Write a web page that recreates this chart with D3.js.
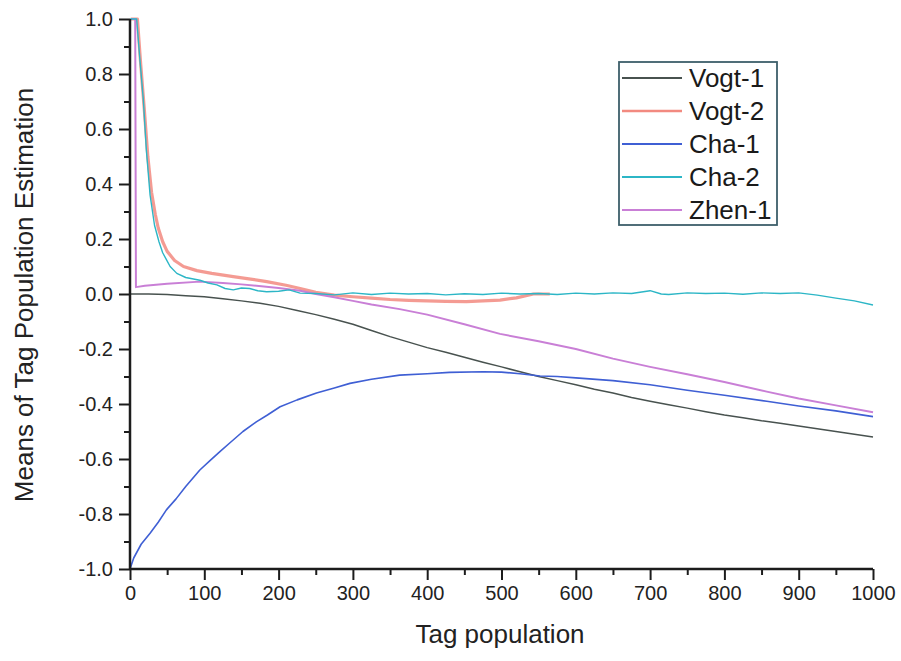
<!DOCTYPE html>
<html>
<head>
<meta charset="utf-8">
<script src="https://cdn.jsdelivr.net/npm/d3@7"></script>
<style>
  body { margin: 0; background: #fff; }
  svg { font-family: "Liberation Sans", Arial, sans-serif; }
</style>
</head>
<body>
<div id="chart"></div>
<script>
'use strict';

// series data, [tag population, mean estimation]
const vogt1 = [[0,0],[25,0],[50,-0.002],[75,-0.006],[100,-0.01],[125,-0.017],[150,-0.025],[175,-0.034],
  [200,-0.045],[225,-0.06],[250,-0.075],[275,-0.092],[300,-0.11],[325,-0.133],[350,-0.155],[375,-0.175],
  [400,-0.195],[425,-0.212],[450,-0.23],[475,-0.248],[500,-0.265],[525,-0.283],[550,-0.3],[575,-0.315],
  [600,-0.33],[625,-0.346],[650,-0.36],[675,-0.376],[700,-0.39],[725,-0.403],[750,-0.415],[775,-0.428],
  [800,-0.44],[825,-0.45],[850,-0.461],[875,-0.47],[900,-0.48],[925,-0.49],[950,-0.5],[975,-0.51],[1000,-0.52]];

const vogt2 = [[1,1.0],[10,1.0],[14,0.85],[19,0.68],[24,0.5],[29,0.37],[34,0.29],[38,0.24],[44,0.19],
  [50,0.155],[60,0.122],[72,0.1],[90,0.085],[110,0.075],[139,0.063],[160,0.055],[184,0.045],[210,0.032],
  [229,0.02],[250,0.006],[275,-0.004],[300,-0.01],[325,-0.015],[350,-0.02],[375,-0.023],[400,-0.025],
  [425,-0.027],[453,-0.028],[475,-0.025],[498,-0.022],[520,-0.014],[543,0.0],[555,0.0],[565,0.0]];

const cha1 = [[0,-1.0],[5,-0.96],[15,-0.91],[27,-0.87],[38,-0.83],[49,-0.785],[62,-0.745],[75,-0.7],
  [94,-0.64],[108,-0.605],[121,-0.573],[135,-0.54],[152,-0.5],[170,-0.465],[185,-0.44],[202,-0.41],
  [225,-0.385],[251,-0.36],[275,-0.342],[296,-0.325],[325,-0.31],[363,-0.295],[400,-0.29],[430,-0.285],
  [475,-0.283],[500,-0.284],[525,-0.29],[552,-0.298],[575,-0.3],[600,-0.305],[650,-0.315],[700,-0.33],
  [750,-0.35],[800,-0.368],[857,-0.39],[900,-0.407],[950,-0.425],[1000,-0.446]];

const cha2 = [[0,1.0],[9,1.0],[13,0.863],[18,0.705],[22,0.524],[27,0.36],[33,0.25],[39,0.19],[44,0.15],
  [49,0.125],[54,0.1],[63,0.075],[75,0.06],[94,0.05],[105,0.04],[117,0.033],[128,0.02],[139,0.015],
  [150,0.022],[161,0.02],[172,0.012],[184,0.008],[200,0.01],[214,0.015],[229,0.003],[250,0.002],
  [275,-0.003],[300,0.004],[325,-0.002],[350,0.003],[375,0.0],[400,0.002],[425,-0.003],[450,0.001],
  [475,-0.002],[500,0.003],[525,0.0],[550,0.002],[575,-0.002],[600,0.003],[625,0.0],[650,0.004],
  [675,0.002],[700,0.012],[715,0.0],[725,-0.002],[750,0.004],[775,0.002],[800,0.003],[825,-0.001],
  [850,0.004],[875,0.002],[900,0.004],[925,-0.004],[950,-0.015],[975,-0.025],[1000,-0.04]];

const zhen1 = [[1,1.0],[7,1.0],[8,0.025],[20,0.03],[50,0.037],[94,0.045],[125,0.04],[150,0.035],
  [200,0.022],[229,0.012],[250,0.0],[275,-0.012],[300,-0.025],[325,-0.038],[363,-0.055],[400,-0.075],
  [450,-0.11],[498,-0.145],[550,-0.172],[600,-0.2],[650,-0.235],[700,-0.265],[750,-0.292],[800,-0.32],
  [857,-0.355],[900,-0.38],[950,-0.405],[1000,-0.43]];

const seriesNames = ["Vogt-1", "Vogt-2", "Cha-1", "Cha-2", "Zhen-1"];
const seriesData = [vogt1, vogt2, cha1, cha2, zhen1];
const seriesColors = ["#48524f", "#f28a80", "#3f5fd4", "#2cb6c6", "#c97fd6"];
const seriesWidths = [1.5, 3.2, 1.6, 1.4, 2];

const xTicks = d3.range(0, 1001, 100);
const xMinorTicks = d3.range(50, 1000, 100);
const yTicks = d3.range(-1, 1.001, 0.2);
const yMinorTicks = d3.range(-0.9, 1, 0.2);

const width = 901, height = 661;
const margin = {left: 130, right: 28, top: 19, bottom: 92};

const svg = d3.select("#chart").append("svg")
  .attr("width", width)
  .attr("height", height);

const x = d3.scaleLinear().domain([0, 1000]).range([margin.left, width - margin.right]);
const y = d3.scaleLinear().domain([-1, 1]).range([height - margin.bottom, margin.top]);

// series lines, Vogt-2 under the others
const line = d3.line().x(d => x(d[0])).y(d => y(d[1]));
const order = [1, 0, 2, 4, 3];
order.forEach(i => {
  svg.append("path")
    .datum(seriesData[i])
    .attr("fill", "none")
    .attr("stroke", seriesColors[i])
    .attr("stroke-width", seriesWidths[i])
    .attr("stroke-linejoin", "round")
    .attr("opacity", i === 1 ? 0.85 : 1)
    .attr("d", line);
});

// axes
const fmtY = v => (Math.abs(v) < 1e-9 ? 0 : v).toFixed(1);
const xAxis = svg.append("g")
  .attr("transform", "translate(0," + y(-1) + ")")
  .call(d3.axisBottom(x).tickValues(xTicks).tickSize(11).tickPadding(6).tickFormat(d3.format("d")));
svg.append("g")
  .attr("transform", "translate(0," + y(-1) + ")")
  .call(d3.axisBottom(x).tickValues(xMinorTicks).tickSize(6).tickFormat(""))
  .select(".domain").remove();

const yAxis = svg.append("g")
  .attr("transform", "translate(" + x(0) + ",0)")
  .call(d3.axisLeft(y).tickValues(yTicks).tickSize(11).tickPadding(6).tickFormat(fmtY));
svg.append("g")
  .attr("transform", "translate(" + x(0) + ",0)")
  .call(d3.axisLeft(y).tickValues(yMinorTicks).tickSize(6).tickFormat(""))
  .select(".domain").remove();

svg.selectAll(".domain").attr("stroke", "#1c1c1c").attr("stroke-width", 2.5);
svg.selectAll(".tick line").attr("stroke", "#1c1c1c").attr("stroke-width", 2);
svg.selectAll(".tick text").attr("font-size", 20).attr("fill", "#222");
xAxis.selectAll(".domain").attr("d", "M" + x(0) + ",0H" + x(1000));
yAxis.selectAll(".domain").attr("d", "M0," + y(-1) + "V" + y(1));

// axis titles
svg.append("text")
  .attr("x", 500)
  .attr("y", 643)
  .attr("text-anchor", "middle")
  .attr("font-size", 26)
  .attr("fill", "#222")
  .text("Tag population");
svg.append("text")
  .attr("transform", "translate(33," + 295 + ") rotate(-90)")
  .attr("text-anchor", "middle")
  .attr("font-size", 26)
  .attr("fill", "#222")
  .text("Means of Tag Population Estimation");

// legend
const legend = svg.append("g").attr("transform", "translate(619,62)");
legend.append("rect")
  .attr("width", 158)
  .attr("height", 163)
  .attr("fill", "#fff")
  .attr("stroke", "#3d5f6a")
  .attr("stroke-width", 1.8);
seriesNames.forEach((name, i) => {
  const ly = 16 + i * 33;
  legend.append("line")
    .attr("x1", 3).attr("x2", 63)
    .attr("y1", ly).attr("y2", ly)
    .attr("stroke", seriesColors[i])
    .attr("stroke-width", i === 1 ? 2.6 : 1.8);
  legend.append("text")
    .attr("x", 70)
    .attr("y", ly + 9)
    .attr("font-size", 26)
    .attr("fill", "#1a1a1a")
    .text(name);
});
</script>
</body>
</html>
